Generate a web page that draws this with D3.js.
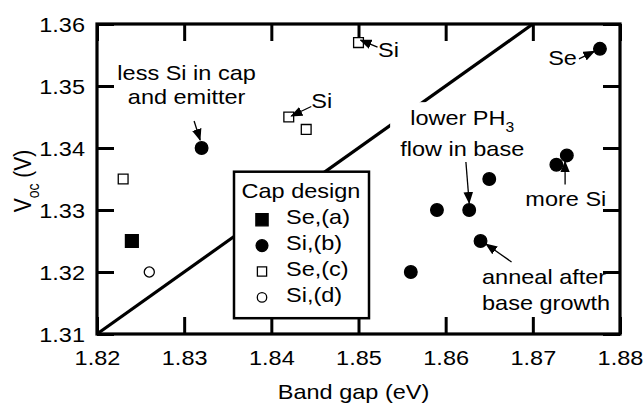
<!DOCTYPE html>
<html>
<head>
<meta charset="utf-8">
<script src="https://cdn.jsdelivr.net/npm/d3@7/dist/d3.min.js"></script>
<style>
body { margin: 0; background: #fff; }
text { font-family: "Liberation Sans", Arial, sans-serif; font-size: 21px; fill: #000; }
</style>
</head>
<body>
<div id="chart"></div>
<script>
// Voc vs band gap scatter, by cap design
var xTicks = [1.82, 1.83, 1.84, 1.85, 1.86, 1.87, 1.88];
var yTicks = [1.31, 1.32, 1.33, 1.34, 1.35, 1.36];

var seA_gap = [1.824];
var seA_voc = [1.325];
var siB_gap = [1.832, 1.856, 1.859, 1.8627, 1.864, 1.865, 1.8727, 1.8739, 1.8777];
var siB_voc = [1.340, 1.320, 1.330, 1.330, 1.325, 1.335, 1.3373, 1.3388, 1.356];
var seC_gap = [1.823, 1.842, 1.844, 1.850];
var seC_voc = [1.335, 1.345, 1.343, 1.357];
var siD_gap = [1.826];
var siD_voc = [1.320];

var guideGap = [1.82, 1.87];
var guideVoc = [1.31, 1.36];

var legendTitle = "Cap design";
var legendLabels = ["Se,(a)", "Si,(b)", "Se,(c)", "Si,(d)"];

var margin = {top: 24, right: 23, bottom: 70, left: 97},
    width = 643 - margin.left - margin.right,
    height = 404 - margin.top - margin.bottom;
var sx = 1.12; // glyphs in the original are a bit wide

var x = d3.scaleLinear().domain([1.82, 1.88]).range([0, width]);
var y = d3.scaleLinear().domain([1.31, 1.36]).range([height, 0]);

var svg = d3.select("#chart").append("svg")
    .attr("width", 643)
    .attr("height", 404);

svg.append("defs").append("marker")
    .attr("id", "head")
    .attr("viewBox", "0 -5 12 10")
    .attr("refX", 11)
    .attr("refY", 0)
    .attr("markerWidth", 12)
    .attr("markerHeight", 10)
    .attr("markerUnits", "userSpaceOnUse")
    .attr("orient", "auto")
  .append("path")
    .attr("d", "M0,-4.8L12,0L0,4.8Z");

var g = svg.append("g")
    .attr("transform", "translate(" + margin.left + "," + margin.top + ")");

var gGuide = g.append("g"),
    gBg = g.append("g"),
    gAxes = g.append("g"),
    gPts = g.append("g"),
    gLeg = g.append("g"),
    gNotes = g.append("g");

function wide(sel, px, py, str, anchor) {
  return sel.append("text")
      .attr("transform", "translate(" + px + "," + py + ") scale(" + sx + ",1)")
      .attr("text-anchor", anchor || "start")
      .text(str);
}

// guide line
gGuide.append("path")
    .datum(d3.zip(guideGap, guideVoc))
    .attr("fill", "none")
    .attr("stroke", "#000")
    .attr("stroke-width", 3.2)
    .attr("d", d3.line().x(function(d) { return x(d[0]); }).y(function(d) { return y(d[1]); }));

// axes, ticks pointing in, on all four sides
var inner = 17;
var xAxis = gAxes.append("g")
    .attr("transform", "translate(0," + height + ")")
    .call(d3.axisBottom(x).tickValues(xTicks).tickSize(-inner).tickFormat(d3.format(".2f")));
xAxis.selectAll("text")
    .attr("y", 31).attr("dy", null)
    .attr("transform", "scale(" + sx + ",1)");
var yAxis = gAxes.append("g")
    .call(d3.axisLeft(y).tickValues(yTicks).tickSize(-inner).tickFormat(d3.format(".2f")));
yAxis.selectAll("text")
    .attr("x", -12 / sx).attr("dy", null).attr("y", 7.5)
    .attr("transform", "scale(" + sx + ",1)");
gAxes.append("g")
    .call(d3.axisTop(x).tickValues(xTicks).tickSize(-inner).tickFormat(""));
gAxes.append("g")
    .attr("transform", "translate(" + width + ",0)")
    .call(d3.axisRight(y).tickValues(yTicks).tickSize(-inner).tickFormat(""));
gAxes.selectAll(".domain").remove();
gAxes.selectAll(".tick line").attr("stroke", "#000").attr("stroke-width", 3);
gAxes.selectAll(".tick text").attr("font-size", null).attr("font-family", null).attr("fill", "#000");
gAxes.append("rect")
    .attr("width", width).attr("height", height)
    .attr("fill", "none").attr("stroke", "#000").attr("stroke-width", 3.2);

// axis titles
wide(g, width / 2 - 5, height + 65, "Band gap (eV)", "middle");
var yl = g.append("text")
    .attr("transform", "translate(" + (31 - margin.left) + "," + (181 - margin.top) + ") rotate(-90) scale(1,1.15)")
    .attr("text-anchor", "middle");
yl.append("tspan").text("V");
yl.append("tspan").attr("font-size", "14px").attr("dy", 7).text("oc");
yl.append("tspan").attr("dy", -7).text(" (V)");

// points
var series = [
  {gap: seA_gap, voc: seA_voc, type: d3.symbolSquare, size: 165, fill: "#000"},
  {gap: siB_gap, voc: siB_voc, type: d3.symbolCircle, size: 125, fill: "#000"},
  {gap: seC_gap, voc: seC_voc, type: d3.symbolSquare, size: 96, fill: "#fff"},
  {gap: siD_gap, voc: siD_voc, type: d3.symbolCircle, size: 80, fill: "#fff"}
];
series.forEach(function(s) {
  gPts.selectAll(null)
      .data(d3.zip(s.gap, s.voc))
    .enter().append("path")
      .attr("transform", function(d) { return "translate(" + x(d[0]) + "," + y(d[1]) + ")"; })
      .attr("d", d3.symbol().type(s.type).size(s.size))
      .attr("fill", s.fill)
      .attr("stroke", "#000")
      .attr("stroke-width", 1.3);
});

// legend
var lx = 234 - margin.left, ly = 171.7 - margin.top;
gLeg.append("rect")
    .attr("x", lx).attr("y", ly)
    .attr("width", 135).attr("height", 146.5)
    .attr("fill", "#fff").attr("stroke", "#000").attr("stroke-width", 2.5);
wide(gLeg, lx + 7.5, ly + 26.5, legendTitle);
var legSizes = [150, 110, 85, 70];
legendLabels.forEach(function(lab, i) {
  var by = ly + 52.5 + i * 25.9;
  var s = series[i];
  gLeg.append("path")
      .attr("transform", "translate(" + (lx + 28) + "," + (by - 4.5) + ")")
      .attr("d", d3.symbol().type(s.type).size(legSizes[i]))
      .attr("fill", s.fill).attr("stroke", "#000").attr("stroke-width", 1.3);
  wide(gLeg, lx + 52, by, lab);
});

// annotations: target point, arrow tip/tail and text offsets in pixels
var notes = [
  {gap: 1.832, voc: 1.340, tip: [-1.5, -8], tail: [-7.5, -27], tx: -15, anchor: "middle",
   lines: [["less Si in cap", -68], ["and emitter", -44]]},
  {gap: 1.850, voc: 1.357, tip: [2, -2.5], tail: [19, 4.5], tx: 19.5, anchor: "start",
   lines: [["Si", 14.5]]},
  {gap: 1.842, voc: 1.345, tip: [2.5, -1], tail: [22.5, -10.5], tx: 22.5, anchor: "start",
   lines: [["Si", -9]]},
  {gap: 1.8777, voc: 1.356, tip: [-5.5, 2.5], tail: [-21, 10], tx: -23, anchor: "end",
   lines: [["Se", 16.2]]},
  {gap: 1.8627, voc: 1.330, tip: [0, -7], tail: [-3.3, -48], tx: -7, anchor: "middle",
   lines: [["lower PH_3", -85], ["flow in base", -54]], bg: true},
  {gap: 1.8739, voc: 1.3388, tip: [-1.8, 6], tail: [-1.7, 29], tx: -1, anchor: "middle",
   lines: [["more Si", 51]]},
  {gap: 1.864, voc: 1.325, tip: [5.5, 3], tail: [31, 21], tx: 1.5, anchor: "start",
   lines: [["anneal after", 43], ["base growth", 68.5]]}
];
notes.forEach(function(n) {
  var px = x(n.gap), py = y(n.voc);
  gNotes.append("line")
      .attr("x1", px + n.tail[0]).attr("y1", py + n.tail[1])
      .attr("x2", px + n.tip[0]).attr("y2", py + n.tip[1])
      .attr("stroke", "#000").attr("stroke-width", 1.3)
      .attr("marker-end", "url(#head)");
  var tg = gNotes.append("g");
  n.lines.forEach(function(l) {
    var parts = l[0].split("_");
    var t = wide(tg, px + n.tx, py + l[1], parts[0], n.anchor);
    if (parts[1]) {
      t.append("tspan").attr("font-size", "14px").attr("dy", 6.5).text(parts[1]);
    }
  });
  if (n.bg) {
    var b = tg.node().getBBox();
    gBg.append("rect")
        .attr("x", b.x - 10).attr("y", b.y - 4)
        .attr("width", b.width + 20).attr("height", b.height + 8)
        .attr("fill", "#fff");
  }
});
</script>
</body>
</html>
